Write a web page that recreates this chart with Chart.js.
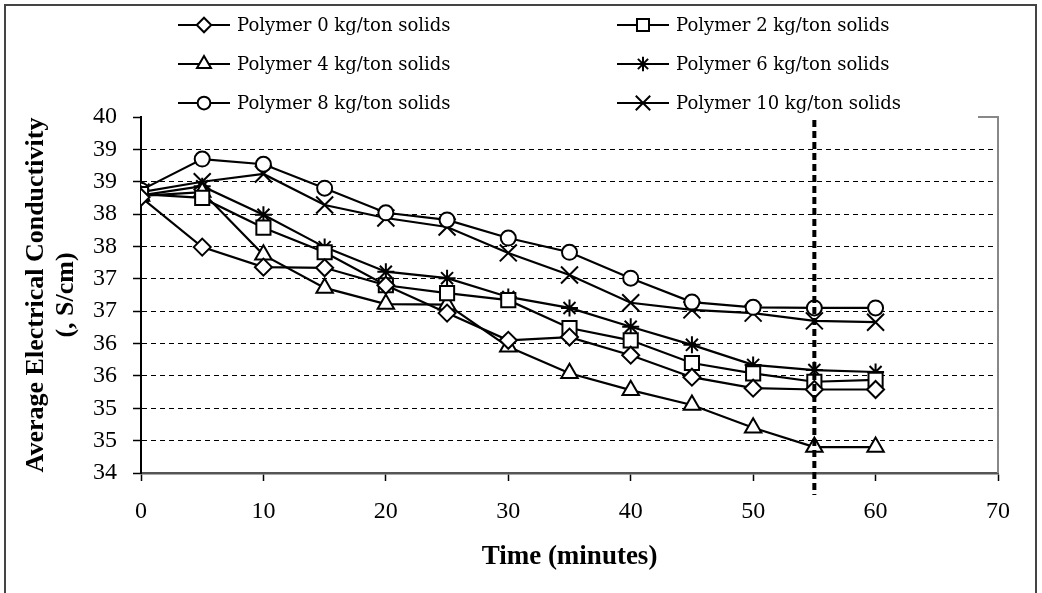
<!DOCTYPE html>
<html><head><meta charset="utf-8">
<script src="https://cdn.jsdelivr.net/npm/chart.js@4"></script>
<style>
html,body{margin:0;padding:0;background:#fff;}
#wrap{position:relative;width:1042px;height:593px;overflow:hidden;}
#frame{position:absolute;left:4px;top:4px;width:1033px;height:640px;border:2px solid #444;box-sizing:border-box;pointer-events:none}
canvas{position:absolute;left:0;top:0}
</style></head>
<body><div id="wrap"><canvas id="c" width="1042" height="593"></canvas><div id="frame"></div></div>
<script>
const times = [0, 5, 10, 15, 20, 25, 30, 35, 40, 45, 50, 55, 60];
const seriesLabels = [
  'Polymer 0 kg/ton solids', 'Polymer 2 kg/ton solids',
  'Polymer 4 kg/ton solids', 'Polymer 6 kg/ton solids',
  'Polymer 8 kg/ton solids', 'Polymer 10 kg/ton solids'
];
const poly0  = [38.66, 37.89, 37.58, 37.57, 37.30, 36.87, 36.45, 36.50, 36.22, 35.88, 35.71, 35.69, 35.69];
const poly2  = [38.71, 38.65, 38.19, 37.81, 37.30, 37.18, 37.07, 36.64, 36.45, 36.10, 35.94, 35.81, 35.84];
const poly4  = [38.68, 38.74, 37.77, 37.26, 37.01, 37.00, 36.35, 35.94, 35.68, 35.45, 35.10, 34.80, 34.80];
const poly6  = [38.69, 38.83, 38.39, 37.89, 37.51, 37.41, 37.12, 36.95, 36.66, 36.38, 36.07, 35.99, 35.96];
const poly8  = [38.77, 39.25, 39.17, 38.80, 38.42, 38.31, 38.03, 37.81, 37.41, 37.04, 36.96, 36.95, 36.95];
const poly10 = [38.74, 38.90, 39.02, 38.54, 38.34, 38.20, 37.80, 37.46, 37.03, 36.92, 36.87, 36.75, 36.73];
const xTicks = [0, 10, 20, 30, 40, 50, 60, 70];
const yTickLabels = ['34', '35', '35', '36', '36', '37', '37', '38', '38', '39', '39', '40'];
const markerLine = 55;

const seriesValues = [poly0, poly2, poly4, poly6, poly8, poly10];
const styles = [
  {pointStyle: 'rectRot', r: 8.5},
  {pointStyle: 'rect', r: 10},
  {pointStyle: 'triangle', r: 9.5},
  {pointStyle: 'star', r: 8.5},
  {pointStyle: 'circle', r: 7.5},
  {pointStyle: 'crossRot', r: 12}
];

const datasets = seriesValues.map((vals, i) => ({
  label: seriesLabels[i],
  data: times.map((t, j) => ({x: t, y: vals[j]})),
  borderColor: '#000',
  borderWidth: 2.2,
  backgroundColor: '#fff',
  pointBackgroundColor: '#fff',
  pointBorderColor: '#000',
  pointBorderWidth: 2,
  pointStyle: styles[i].pointStyle,
  pointRadius: styles[i].r,
  pointHoverRadius: styles[i].r,
  tension: 0,
  fill: false
}));

const serif = "'Liberation Serif', 'Times New Roman', serif";

const extras = {
  id: 'extras',
  afterDatasetsDraw(chart) {
    const ctx = chart.ctx;
    const xs = chart.scales.x;
    const ca = chart.chartArea;
    ctx.save();
    ctx.strokeStyle = '#888';
    ctx.lineWidth = 2;
    ctx.beginPath();
    ctx.moveTo(ca.right - 20, ca.top);
    ctx.lineTo(ca.right, ca.top);
    ctx.lineTo(ca.right, ca.bottom);
    ctx.stroke();
    const px = xs.getPixelForValue(markerLine);
    ctx.strokeStyle = '#000';
    ctx.lineWidth = 4;
    ctx.setLineDash([7, 4]);
    ctx.beginPath();
    ctx.moveTo(px, ca.top + 3);
    ctx.lineTo(px, ca.bottom + 22);
    ctx.stroke();
    ctx.setLineDash([]);
    const colX = [178, 617];
    const rowY = [25, 64, 103];
    chart.data.datasets.forEach((ds, i) => {
      const col = i % 2, row = Math.floor(i / 2);
      const x0 = colX[col], y0 = rowY[row];
      ctx.strokeStyle = '#000';
      ctx.lineWidth = 2.2;
      ctx.beginPath();
      ctx.moveTo(x0, y0);
      ctx.lineTo(x0 + 52, y0);
      ctx.stroke();
      ctx.fillStyle = '#fff';
      ctx.strokeStyle = '#000';
      ctx.lineWidth = 2;
      if (Chart.helpers && Chart.helpers.drawPoint) {
        Chart.helpers.drawPoint(ctx, {pointStyle: ds.pointStyle, radius: ds.pointRadius * 0.85, rotation: 0, borderWidth: 2}, x0 + 26, y0);
      }
      ctx.fillStyle = '#000';
      ctx.font = "18px 'DejaVu Serif', serif";
      ctx.textAlign = 'left';
      ctx.textBaseline = 'middle';
      ctx.fillText(ds.label, x0 + 59, y0 + 1);
    });
    ctx.restore();
  }
};

new Chart(document.getElementById('c'), {
  type: 'line',
  data: {datasets},
  options: {
    responsive: false,
    animation: false,
    devicePixelRatio: 1,
    layout: {padding: {top: 117, right: 44, left: 0, bottom: 0}},
    plugins: {legend: {display: false}, tooltip: {enabled: false}},
    scales: {
      x: {
        type: 'linear',
        min: 0, max: 70,
        afterBuildTicks: (s) => { s.ticks = xTicks.map(v => ({value: v})); },
        afterFit: (s) => { s.height = 120; },
        grid: {drawOnChartArea: false, drawTicks: true, tickLength: 8, tickColor: '#000', tickWidth: 1.5},
        border: {display: true, color: '#555', width: 2.5},
        ticks: {color: '#000', font: {family: serif, size: 24}, padding: 16, maxRotation: 0},
        title: {display: true, text: 'Time (minutes)', color: '#000', font: {family: serif, size: 27, weight: 'bold', lineHeight: 1.2}, padding: {top: 0, bottom: 20}}
      },
      y: {
        type: 'linear',
        min: 34.4, max: 39.9,
        ticks: {stepSize: 0.5, color: '#000', font: {family: serif, size: 24}, padding: 16,
          callback: (v, i) => yTickLabels[i]},
        afterFit: (s) => { s.width = 141; },
        grid: {
          color: (c) => (c.index === 11 || c.index === 0) ? 'rgba(0,0,0,0)' : '#000',
          lineWidth: 1,
          drawTicks: true, tickLength: 8, tickColor: '#000', tickWidth: 1.5
        },
        border: {display: true, color: '#000', width: 2, dash: [5, 4]},
        title: {display: true, text: ['Average Electrical Conductivity', '(, S/cm)'], color: '#000',
          font: {family: serif, size: 26, weight: 'bold', lineHeight: '30px'}, padding: {top: 21, bottom: 0}}
      }
    }
  },
  plugins: [extras]
});
</script>
</body></html>
